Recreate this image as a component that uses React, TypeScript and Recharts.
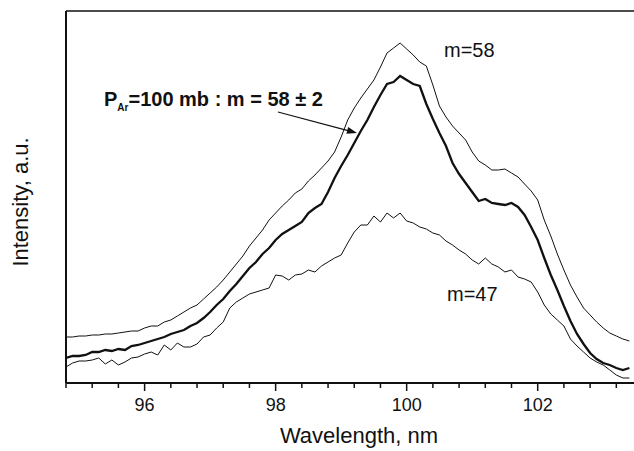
import { Line, LineChart, ReferenceLine, XAxis, YAxis } from "recharts"

// wavelength grid, nm (94.8 .. 103.4, 0.1 step)
const wavelengths = [
	94.8, 94.9, 95.0, 95.1, 95.2, 95.3, 95.4, 95.5, 95.6, 95.7,
	95.8, 95.9, 96.0, 96.1, 96.2, 96.3, 96.4, 96.5, 96.6, 96.7,
	96.8, 96.9, 97.0, 97.1, 97.2, 97.3, 97.4, 97.5, 97.6, 97.7,
	97.8, 97.9, 98.0, 98.1, 98.2, 98.3, 98.4, 98.5, 98.6, 98.7,
	98.8, 98.9, 99.0, 99.1, 99.2, 99.3, 99.4, 99.5, 99.6, 99.7,
	99.8, 99.9, 100.0, 100.1, 100.2, 100.3, 100.4, 100.5, 100.6, 100.7,
	100.8, 100.9, 101.0, 101.1, 101.2, 101.3, 101.4, 101.5, 101.6, 101.7,
	101.8, 101.9, 102.0, 102.1, 102.2, 102.3, 102.4, 102.5, 102.6, 102.7,
	102.8, 102.9, 103.0, 103.1, 103.2, 103.3, 103.4,
]

// m=58 (upper thin curve)
const upper58 = [
	46, 46, 47, 47, 48, 48, 49, 49, 50, 51,
	52, 52, 55, 57, 57, 61, 63, 67, 71, 75,
	78, 84, 90, 96, 103, 111, 119, 127, 137, 145,
	153, 163, 170, 177, 183, 190, 194, 202, 208, 215,
	222, 231, 246, 263, 275, 285, 294, 303, 316, 330,
	335, 340, 334, 328, 321, 317, 298, 277, 266, 257,
	250, 243, 231, 222, 218, 213, 213, 214, 210, 206,
	199, 192, 183, 163, 147, 129, 113, 98, 86, 75,
	68, 61, 55, 50, 47, 44, 42,
]

// P_Ar=100 mb : m = 58 ± 2 (thick curve)
const avg58 = [
	25, 27, 27, 28, 31, 31, 33, 32, 34, 33,
	37, 38, 40, 42, 44, 46, 49, 51, 53, 57,
	60, 65, 71, 78, 84, 92, 99, 107, 115, 121,
	129, 135, 143, 149, 153, 157, 161, 170, 175, 179,
	191, 205, 217, 228, 240, 252, 263, 276, 288, 299,
	301, 307, 303, 299, 297, 279, 264, 250, 237, 220,
	209, 200, 191, 182, 184, 180, 179, 178, 180, 176,
	168, 156, 143, 125, 108, 93, 77, 62, 49, 39,
	30, 24, 20, 18, 15, 13, 15,
]

// m=47 (lower thin curve)
const lower47 = [
	16, 20, 22, 22, 23, 25, 19, 23, 18, 21,
	25, 26, 29, 31, 28, 38, 33, 40, 36, 36,
	39, 46, 48, 55, 61, 75, 81, 85, 89, 91,
	93, 95, 108, 107, 103, 108, 109, 113, 111, 117,
	121, 125, 128, 140, 151, 158, 158, 167, 161, 170,
	165, 170, 162, 160, 156, 154, 150, 148, 142, 138,
	133, 129, 123, 119, 125, 119, 116, 111, 113, 106,
	104, 101, 91, 78, 69, 63, 57, 44, 37, 31,
	25, 21, 18, 13, 8, 5, 5,
]

const xTicks = [
	94.8, 95.2, 95.6, 96, 96.4, 96.8, 97.2, 97.6, 98, 98.4, 98.8, 99.2,
	99.6, 100, 100.4, 100.8, 101.2, 101.6, 102, 102.4, 102.8, 103.2,
]
const majorTicks = [96, 98, 100, 102]

const data = wavelengths.map((w, i) => ({
	w,
	upper: upper58[i],
	avg: avg58[i],
	lower: lower47[i],
}))

const FONT = "'Liberation Sans', Arial, sans-serif"
const INK = "#111"

function WaveTick(props: any) {
	const { x, y, payload } = props
	const major = majorTicks.some((t) => Math.abs(t - payload.value) < 0.01)
	return (
		<g>
			<line x1={x} x2={x} y1={y} y2={y + (major ? 8 : 5)} stroke={INK} strokeWidth={1.5} />
			{major && (
				<text x={x} y={y + 28} textAnchor="middle" fontSize={18} fontFamily={FONT} fill={INK}>
					{Math.round(payload.value)}
				</text>
			)}
		</g>
	)
}

export default function App() {
	return (
		<div style={{ position: "absolute", left: 0, top: 0, width: 634, height: 451, background: "#fff" }}>
			<LineChart width={634} height={451} data={data} margin={{ top: 11, right: 0, bottom: 0, left: 0 }}>
				<XAxis
					dataKey="w"
					type="number"
					domain={[94.8, 103.47]}
					allowDataOverflow
					ticks={xTicks}
					interval={0}
					tick={<WaveTick />}
					tickLine={false}
					tickSize={0}
					tickMargin={0}
					height={68}
					axisLine={{ stroke: INK, strokeWidth: 2 }}
				/>
				<YAxis
					type="number"
					domain={[0, 372]}
					allowDataOverflow
					width={66}
					tick={false}
					tickLine={false}
					axisLine={{ stroke: INK, strokeWidth: 2 }}
				/>
				<ReferenceLine y={372} stroke={INK} strokeWidth={1.5} />
				<Line dataKey="upper" stroke={INK} strokeWidth={1} dot={false} type="linear" isAnimationActive={false} />
				<Line dataKey="avg" stroke={INK} strokeWidth={2.3} dot={false} type="linear" isAnimationActive={false} />
				<Line dataKey="lower" stroke={INK} strokeWidth={1} dot={false} type="linear" isAnimationActive={false} />
			</LineChart>
			<svg
				width={634}
				height={451}
				style={{ position: "absolute", left: 0, top: 0, pointerEvents: "none" }}
				fontFamily={FONT}
				fill={INK}
			>
				<text x={359} y={443} textAnchor="middle" fontSize={22}>
					Wavelength, nm
				</text>
				<text x={28} y={202} textAnchor="middle" fontSize={22} transform="rotate(-90 28 202)">
					Intensity, a.u.
				</text>
				<text x={104} y={106} fontSize={20} fontWeight="bold">
					<tspan>P</tspan>
					<tspan fontSize={10} dy={5}>Ar</tspan>
					<tspan dy={-5}>=100 mb : m = 58 ± 2</tspan>
				</text>
				<line x1={278} y1={112} x2={348} y2={130.6} stroke={INK} strokeWidth={1.2} />
				<polygon points="357,133 348.2,127.0 346.4,133.8" fill={INK} />
				<text x={444} y={57} fontSize={20}>
					m=58
				</text>
				<text x={447} y={301} fontSize={20}>
					m=47
				</text>
			</svg>
		</div>
	)
}
